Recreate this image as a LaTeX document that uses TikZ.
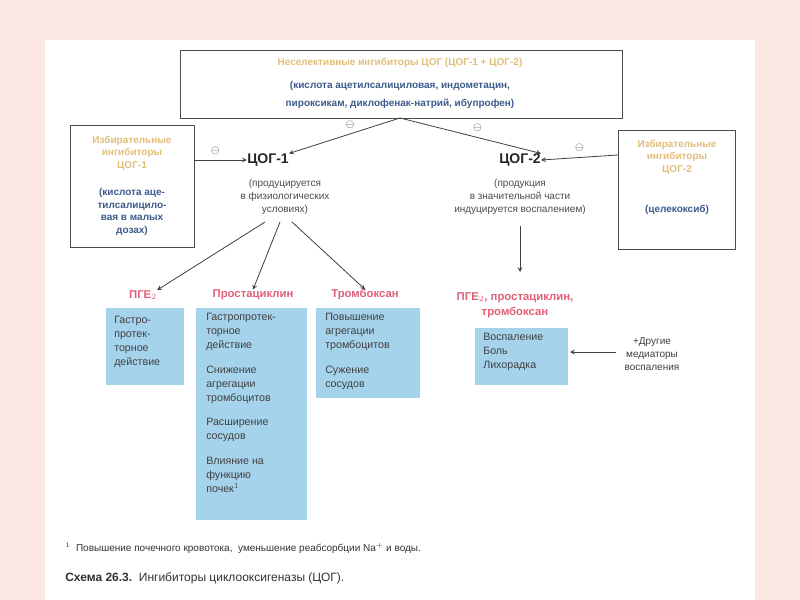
\documentclass[tikz,border=0pt]{standalone}
\usepackage{fontspec}
\setmainfont{Liberation Sans}
\begin{document}
\begin{tikzpicture}[x=0.75pt,y=-0.75pt,
 txt/.style={font=\fontsize{7.5}{9.5}\selectfont,align=center,inner sep=0pt},
 org/.style={txt,text=orng,font=\fontsize{7.5}{9.5}\selectfont\bfseries},
 blu/.style={txt,text=bluet,font=\fontsize{7.5}{9.5}\selectfont\bfseries},
 pnk/.style={txt,text=pinkt,font=\fontsize{8.5}{11}\selectfont\bfseries},
 frame/.style={draw=black!70,line width=0.6pt},
 bbox/.style={fill=boxb,draw=none},
 btxt/.style={font=\fontsize{8}{10.5}\selectfont,align=left,inner sep=0pt,anchor=north west,text=black!75},
 arr/.style={->,>=stealth,black!75,line width=0.6pt},
 th/.style={font=\fontsize{8}{9}\selectfont,text=black!70,inner sep=0pt}]
\definecolor{orng}{HTML}{E3BE78}
\definecolor{bluet}{HTML}{3C5C8C}
\definecolor{pinkt}{HTML}{E0607A}
\definecolor{boxb}{HTML}{A6D3EC}
\definecolor{bgp}{HTML}{FBE8E5}
\fill[bgp] (0,0) rectangle (800,600);
\fill[white] (45,40) rectangle (755,600);
\useasboundingbox (0,0) rectangle (800,600);
% top box
\draw[frame] (180,50) rectangle (622,118);
\node[org] (t1) at (400,63) {Неселективные ингибиторы ЦОГ (ЦОГ-1 + ЦОГ-2)};
\node[blu] (t2) at (400,94.5) {(кислота ацетилсалициловая, индометацин,\\[4pt]пироксикам, диклофенак-натрий, ибупрофен)};
\coordinate (tb) at (400,118);
% left box
\draw[frame] (70,125) rectangle (194,247);
\node[org] (l1) at (132,153) {Избирательные\\ингибиторы\\ЦОГ-1};
\node[blu] (l2) at (132,212) {(кислота аце-\\тилсалицило-\\вая в малых\\дозах)};
\coordinate (lr) at (194,160);
% right box
\draw[frame] (618,130) rectangle (735,249);
\node[org] (r1) at (677,157) {Избирательные\\ингибиторы\\ЦОГ-2};
\node[blu] (r2) at (677,210) {(целекоксиб)};
\coordinate (rl) at (618,155);
% COX
\node[txt,font=\fontsize{10.5}{12}\selectfont\bfseries,text=black!85] (c1) at (268,160) {ЦОГ-1};
\node[txt,text=black!70] (c1s) at (285,197) {(продуцируется\\в физиологических\\условиях)};
\node[txt,font=\fontsize{10.5}{12}\selectfont\bfseries,text=black!85] (c2) at (520,160) {ЦОГ-2};
\node[txt,text=black!70] (c2s) at (520,197) {(продукция\\в значительной части\\индуцируется воспалением)};
\draw[arr] (tb) -- (c1.north east) node[th,pos=0.45,above=4pt] {$\ominus$};
\draw[arr] (tb) -- (c2.north east) node[th,pos=0.55,above=4pt] {$\ominus$};
\draw[arr] (lr) -- (c1.west) node[th,pos=0.4,above=4pt] {$\ominus$};
\draw[arr] (rl) -- (c2.east) node[th,pos=0.5,above=4pt] {$\ominus$};
% products
\node[pnk] (p1) at (143,295) {ПГЕ$_2$};
\node[pnk] (p2) at (253,295) {Простациклин};
\node[pnk] (p3) at (365,295) {Тромбоксан};
\node[pnk] (p4) at (515,305) {ПГЕ$_2$, простациклин,\\тромбоксан};
\coordinate (s1) at (265,222);
\coordinate (s2) at (280,222);
\coordinate (s3) at (292,222);
\draw[arr] (s1) -- (p1.north east);
\draw[arr] (s2) -- (p2.north);
\draw[arr] (s3) -- (p3.north);
\coordinate (s4) at (520,226);
\coordinate (e4) at (520,272);
\draw[arr] (s4) -- (e4);
% blue boxes
\fill[bbox] (106,308) rectangle (184,385);
\node[btxt] (b1) at (114,316) {Гастро-\\протек-\\торное\\действие};
\fill[bbox] (196,308) rectangle (307,520);
\node[btxt] (b2) at (206,313) {Гастропротек-\\торное\\действие\\[8pt]Снижение\\агрегации\\тромбоцитов\\[8pt]Расширение\\сосудов\\[8pt]Влияние на\\функцию\\почек$^1$};
\fill[bbox] (316,308) rectangle (420,398);
\node[btxt] (b3) at (325,313) {Повышение\\агрегации\\тромбоцитов\\[8pt]Сужение\\сосудов};
\fill[bbox] (475,328) rectangle (568,385);
\node[btxt] (b4) at (483,333) {Воспаление\\Боль\\Лихорадка};
\node[txt,text=black!75] (o) at (652,354) {+Другие\\медиаторы\\воспаления};
\draw[arr] (o.west) ++(-8,-2) coordinate (ow) (ow) -- (570,352);
% footnote & caption
\node[txt,anchor=west,text=black!80] (fn) at (65,548) {$^1$\ \ Повышение почечного кровотока,\ \ уменьшение реабсорбции Na$^+$ и воды.};
\node[txt,anchor=west,font=\fontsize{9}{11}\selectfont,text=black!80] (cap) at (65,578) {\textbf{Схема 26.3.}\ \ Ингибиторы циклооксигеназы (ЦОГ).};
\end{tikzpicture}
\end{document}
